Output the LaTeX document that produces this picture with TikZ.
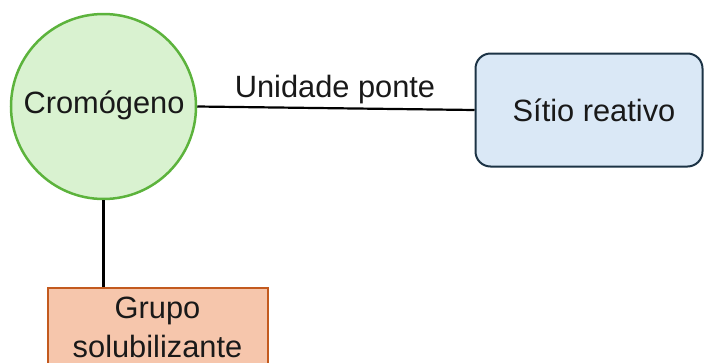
\documentclass[tikz,border=0pt]{standalone}
\usepackage{fontspec}
\setmainfont{Liberation Sans}
\definecolor{cromfill}{HTML}{D9F2D0}
\definecolor{cromline}{HTML}{5CB33C}
\definecolor{sitiofill}{HTML}{DAE8F6}
\definecolor{sitioline}{HTML}{1C3345}
\definecolor{grupofill}{HTML}{F6C6AC}
\definecolor{grupoline}{HTML}{C35A1E}
\tikzset{
  lbl/.style={font=\fontsize{30.8}{38}\selectfont, text=black!90},
  link/.style={draw=black, line width=2.2pt},
}
\begin{document}
\begin{tikzpicture}[x=1pt,y=-1pt]
  \useasboundingbox (0,0) rectangle (706,362);
  % chromophore core
  \node[circle, draw=cromline, fill=cromfill, line width=2.5pt,
        minimum size=185pt, inner sep=0pt] (crom) at (103.5,106.5) {};
  \node[lbl] (cromtxt) at (104,105) {Cromógeno};
  % reactive site
  \node[rectangle, rounded corners=15pt, draw=sitioline, fill=sitiofill,
        line width=2pt, minimum width=227pt, minimum height=113pt,
        inner sep=0pt] (sitio) at (589,110) {};
  \node[lbl] (sitiotxt) at (594,110) {Sítio reativo};
  % solubilising group (runs past the lower edge)
  \node[rectangle, draw=grupoline, fill=grupofill, line width=2pt,
        minimum width=220pt, minimum height=110pt, anchor=north,
        inner sep=0pt] (grupo) at (157.5,287) {};
  \node[lbl, anchor=base] (grupotxt1) at (157.5,318) {Grupo};
  \node[lbl, anchor=base] (grupotxt2) at (157.5,357) {solubilizante};
  % connectors
  \draw[link] (crom.east) -- (sitio.west);
  \node[lbl, anchor=base] (ponte) at (335,97) {Unidade ponte};
  \draw[link] (crom.south) -- (crom.south |- grupo.north);
\end{tikzpicture}
\end{document}
